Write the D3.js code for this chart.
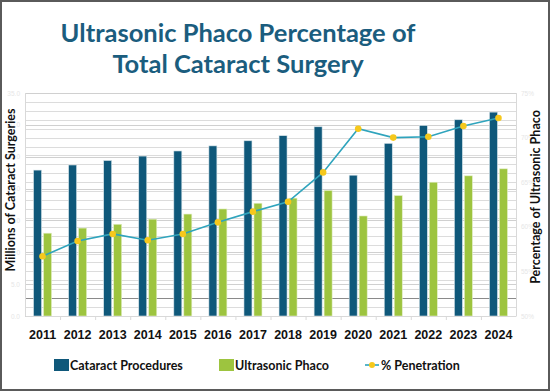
<!DOCTYPE html>
<html>
<head>
<meta charset="utf-8">
<script src="https://cdn.jsdelivr.net/npm/d3@7"></script>
<style>
  body { margin: 0; background: #fff; }
  svg { display: block; font-family: Lato, "Open Sans", sans-serif; }
</style>
</head>
<body>
<script>
// data
const years = ["2011","2012","2013","2014","2015","2016","2017","2018","2019","2020","2021","2022","2023","2024"];
const cataract = [22.9, 23.7, 24.4, 25.1, 25.9, 26.7, 27.5, 28.3, 29.7, 22.1, 27.1, 29.9, 30.8, 32.0];
const phaco = [13.0, 13.8, 14.4, 15.2, 16.0, 16.8, 17.7, 18.5, 19.7, 15.7, 18.9, 21.0, 22.0, 23.1];
const penetration = [56.7, 58.4, 59.2, 58.5, 59.2, 60.5, 61.7, 62.8, 66.1, 71.0, 70.0, 70.1, 71.3, 72.2];
const leftTicks = [0, 5, 10, 15, 20, 25, 30, 35];
const rightTicks = [50, 55, 60, 65, 70, 75];

const W = 550, H = 391;
const m = {top: 93, right: 34, bottom: 75, left: 25};

const svg = d3.select("body").append("svg")
    .attr("width", W)
    .attr("height", H);

// frame
svg.append("rect")
    .attr("x", 1).attr("y", 1)
    .attr("width", W - 2).attr("height", H - 2)
    .attr("fill", "#fff")
    .attr("stroke", "#5a5a5a")
    .attr("stroke-width", 2);

const x = d3.scaleBand()
    .domain(years)
    .range([m.left, W - m.right]);

const y = d3.scaleLinear()
    .domain([0, 35])
    .range([H - m.bottom, m.top]);

const y2 = d3.scaleLinear()
    .domain([50, 75])
    .range([H - m.bottom, m.top]);

// gridlines - minor from the right axis, majors from the left
const grid = svg.append("g");
grid.selectAll("line.minor")
    .data(d3.range(50, 75.5, 1))
    .enter().append("line")
    .attr("x1", m.left).attr("x2", W - m.right)
    .attr("y1", d => Math.round(y2(d)) + 0.5)
    .attr("y2", d => Math.round(y2(d)) + 0.5)
    .attr("stroke", d => d === 52 ? "#8a8a8a" : "#dcdcdc");
grid.selectAll("line.major")
    .data(leftTicks)
    .enter().append("line")
    .attr("x1", m.left).attr("x2", W - m.right)
    .attr("y1", d => Math.round(y(d)) + 0.5)
    .attr("y2", d => Math.round(y(d)) + 0.5)
    .attr("stroke", "#d0d0d0");
// plot borders
[m.left, W - m.right].forEach(px => {
    grid.append("line")
        .attr("x1", px + 0.5).attr("x2", px + 0.5)
        .attr("y1", m.top).attr("y2", H - m.bottom)
        .attr("stroke", "#d9d9d9");
});

// bars
const bw = 8;
svg.append("g").selectAll("rect")
    .data(cataract)
    .enter().append("rect")
    .attr("x", (d, i) => x(years[i]) + x.bandwidth() / 2 - bw - 1)
    .attr("y", d => y(d))
    .attr("width", bw)
    .attr("height", d => y(0) - y(d))
    .attr("fill", "#0f587a")
    .attr("stroke", "#d7e4ea")
    .attr("stroke-width", 0.6);

svg.append("g").selectAll("rect")
    .data(phaco)
    .enter().append("rect")
    .attr("x", (d, i) => x(years[i]) + x.bandwidth() / 2 + 1)
    .attr("y", d => y(d))
    .attr("width", bw)
    .attr("height", d => y(0) - y(d))
    .attr("fill", "#9dc43f")
    .attr("stroke", "#e3efc9")
    .attr("stroke-width", 0.6);

// penetration line
const line = d3.line()
    .x((d, i) => x(years[i]) + x.bandwidth() / 2)
    .y(d => y2(d));

svg.append("path")
    .datum(penetration)
    .attr("d", line)
    .attr("fill", "none")
    .attr("stroke", "#2fa4bd")
    .attr("stroke-width", 1.6);

svg.append("g").selectAll("circle")
    .data(penetration)
    .enter().append("circle")
    .attr("cx", (d, i) => x(years[i]) + x.bandwidth() / 2)
    .attr("cy", d => y2(d))
    .attr("r", 3.3)
    .attr("fill", "#f6c81c");

// axes
const xAxis = svg.append("g")
    .attr("transform", `translate(0,${H - m.bottom})`)
    .call(d3.axisBottom(x).tickSize(0).tickPadding(14));
xAxis.select(".domain").attr("stroke", "#d9d9d9");
xAxis.selectAll("text")
    .attr("font-size", 12.5)
    .attr("font-weight", "bold")
    .attr("fill", "#111");
// category boundary ticks
xAxis.selectAll("line.sep")
    .data(years.slice(1))
    .enter().append("line")
    .attr("class", "sep")
    .attr("x1", d => x(d) + 0.5).attr("x2", d => x(d) + 0.5)
    .attr("y1", 0).attr("y2", 4)
    .attr("stroke", "#d9d9d9");

const yAxis = svg.append("g")
    .attr("transform", `translate(${m.left},0)`)
    .call(d3.axisLeft(y).tickValues(leftTicks).tickFormat(d3.format(".1f")).tickSize(0).tickPadding(5));
yAxis.select(".domain").remove();
yAxis.selectAll("text").attr("font-size", 6.5).attr("fill", "#e6e6e6");

const yAxis2 = svg.append("g")
    .attr("transform", `translate(${W - m.right},0)`)
    .call(d3.axisRight(y2).tickValues(rightTicks).tickFormat(d => d + "%").tickSize(0).tickPadding(5));
yAxis2.select(".domain").remove();
yAxis2.selectAll("text").attr("font-size", 6.5).attr("fill", "#e6e6e6");

// axis titles
svg.append("text")
    .attr("transform", "translate(15,190) rotate(-90)")
    .attr("text-anchor", "middle")
    .attr("font-size", 12.5)
    .attr("font-weight", "bold")
    .attr("fill", "#111")
    .text("Millions of Cataract Surgeries");

svg.append("text")
    .attr("transform", "translate(540,197) rotate(-90)")
    .attr("text-anchor", "middle")
    .attr("font-size", 12.5)
    .attr("font-weight", "bold")
    .attr("fill", "#111")
    .text("Percentage of Ultrasonic Phaco");

// title
const title = svg.append("text")
    .attr("text-anchor", "middle")
    .attr("font-size", 25.5)
    .attr("font-weight", "bold")
    .attr("fill", "#1b5d7e");
title.append("tspan").attr("x", 238).attr("y", 42).text("Ultrasonic Phaco Percentage of");
title.append("tspan").attr("x", 238).attr("y", 73).text("Total Cataract Surgery");

// legend
const legend = [
    {name: "Cataract Procedures", type: "bar", color: "#0f587a", x: 54},
    {name: "Ultrasonic Phaco", type: "bar", color: "#9dc43f", x: 219},
    {name: "% Penetration", type: "line", color: "#2fa4bd", x: 365}
];
const lg = svg.append("g").attr("transform", "translate(0,365)");
legend.forEach(l => {
    if (l.type === "bar") {
        lg.append("rect").attr("x", l.x).attr("y", -6).attr("width", 15).attr("height", 12).attr("fill", l.color);
    } else {
        lg.append("line").attr("x1", l.x).attr("x2", l.x + 14).attr("y1", 0).attr("y2", 0)
            .attr("stroke", l.color).attr("stroke-width", 1.6);
        lg.append("circle").attr("cx", l.x + 7).attr("cy", 0).attr("r", 3).attr("fill", "#f6c81c");
    }
    lg.append("text")
        .attr("x", l.x + 16)
        .attr("y", 4.5)
        .attr("font-size", 12.5)
        .attr("font-weight", "bold")
        .attr("fill", "#111")
        .text(l.name);
});
</script>
</body>
</html>
